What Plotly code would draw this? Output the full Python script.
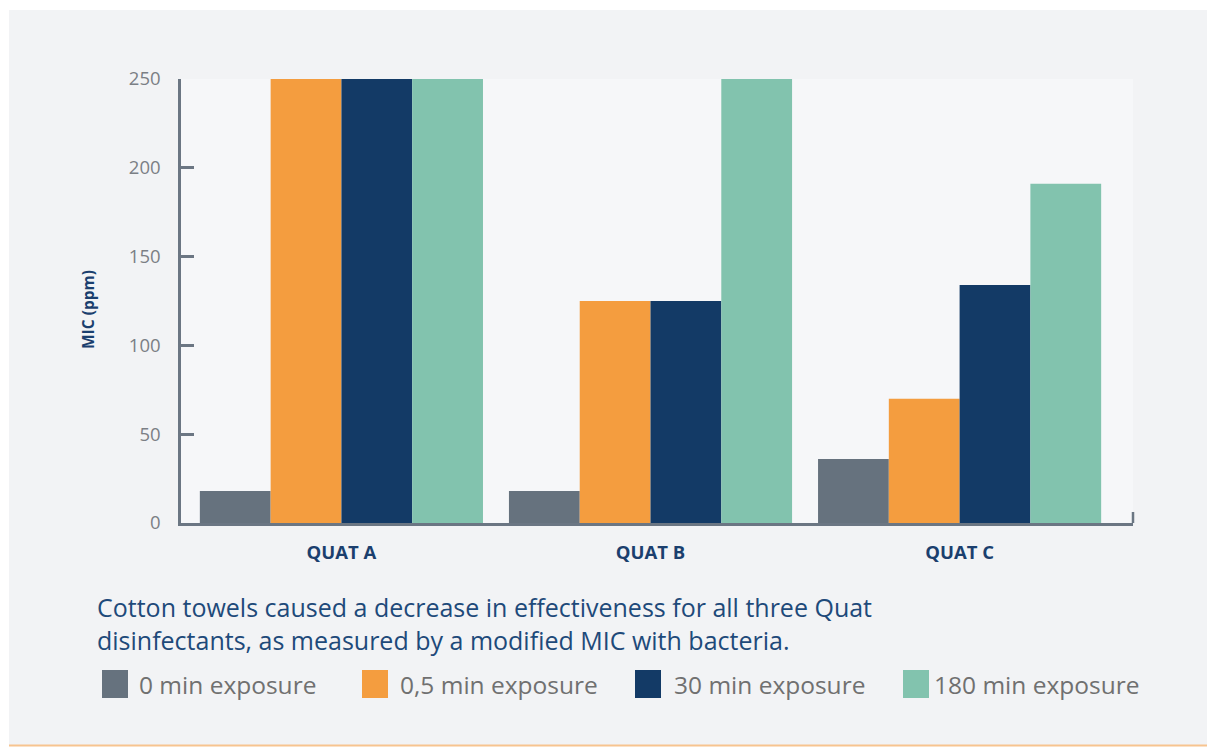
import plotly.graph_objects as go

# ---- data ----
categories = ["QUAT A", "QUAT B", "QUAT C"]
series_names = ["0 min exposure", "0,5 min exposure", "30 min exposure", "180 min exposure"]
vals_0min = [18, 18, 36]
vals_05min = [250, 125, 70]
vals_30min = [250, 125, 134]
vals_180min = [250, 250, 191]
y_ticks = [0, 50, 100, 150, 200, 250]
y_title = "MIC (ppm)"
caption_lines = ["Cotton towels caused a decrease in effectiveness for all three Quat",
                 "disinfectants, as measured by a modified MIC with bacteria."]

# ---- style ----
colors = ["#66727e", "#f49d3f", "#133a66", "#82c3ae"]
axis_col = "#6b7683"
navy = "#1b3f6e"
FONT = "Open Sans"

W, H = 1210, 747
L, R, T, B = 181, 1133, 79, 523  # plot area in pixels
pw, ph = R - L, B - T


def px(x):
    return (x - L) / pw


def py(y):
    return (B - y) / ph


fig = go.Figure()
all_vals = [vals_0min, vals_05min, vals_30min, vals_180min]
for name, v, c in zip(series_names, all_vals, colors):
    fig.add_trace(go.Bar(x=categories, y=v, name=name, marker=dict(color=c, line=dict(width=0)),
                         showlegend=False))

shapes = []
# panel background
shapes.append(dict(type="rect", xref="paper", yref="paper", x0=px(9), x1=px(1207), y0=py(745), y1=py(10),
                   fillcolor="#f2f3f5", line=dict(width=0), layer="below"))
shapes.append(dict(type="rect", xref="paper", yref="paper", x0=px(L), x1=px(R), y0=0, y1=1,
                   fillcolor="#f6f7f9", line=dict(width=0), layer="below"))
# orange bottom line
shapes.append(dict(type="line", xref="paper", yref="paper", x0=px(9), x1=px(1207), y0=py(745.5), y1=py(745.5),
                   line=dict(color="#f7c48f", width=2)))
# right end tick of x axis
shapes.append(dict(type="line", xref="paper", yref="paper", x0=1, x1=1, y0=0, y1=py(512),
                   line=dict(color=axis_col, width=2.5)))

annotations = []
annotations.append(dict(text="<br>".join(caption_lines), xref="paper", yref="paper", x=px(95), y=py(588),
                        xanchor="left", yanchor="top", align="left", showarrow=False,
                        font=dict(family=FONT, size=25, color="#1e4a7a")))
# y axis title
annotations.append(dict(text=f"<b>{y_title}</b>", xref="paper", yref="paper", x=px(88), y=py(310),
                        xanchor="center", yanchor="middle", textangle=-90, showarrow=False,
                        font=dict(family=FONT, size=15.5, color=navy)))

# manual legend
leg_x = [102, 362, 635, 903]
leg_tx = [137, 398, 672, 932]
leg_y = 684
for name, c, lx, tx in zip(series_names, colors, leg_x, leg_tx):
    shapes.append(dict(type="rect", xref="paper", yref="paper", x0=px(lx), x1=px(lx + 26),
                       y0=py(leg_y + 14), y1=py(leg_y - 14), fillcolor=c, line=dict(width=0)))
    annotations.append(dict(text=name, xref="paper", yref="paper", x=px(tx), y=py(leg_y),
                            xanchor="left", yanchor="middle", showarrow=False,
                            font=dict(family=FONT, size=24.5, color="#707070")))

fig.update_layout(
    width=W, height=H,
    margin=dict(l=L, r=W - R, t=T, b=H - B, pad=0),
    paper_bgcolor="#ffffff",
    plot_bgcolor="rgba(0,0,0,0)",
    barmode="group",
    bargap=0.084,
    bargroupgap=0,
    font=dict(family=FONT),
    shapes=shapes,
    annotations=annotations,
    xaxis=dict(
        range=[-0.519, 2.561],
        showline=True, linecolor=axis_col, linewidth=2.5,
        ticks="", showgrid=False, zeroline=False,
        tickfont=dict(family=FONT, size=18.5, color=navy, weight="bold"),
        ticklabelstandoff=11,
    ),
    yaxis=dict(
        range=[0, 250],
        tickvals=y_ticks,
        showline=True, linecolor=axis_col, linewidth=2.5,
        ticks="inside", ticklen=13, tickwidth=2.5, tickcolor=axis_col,
        showgrid=False, zeroline=False,
        tickfont=dict(family=FONT, size=18.5, color="#7b7f85"),
        ticklabelstandoff=14,
    ),
)

fig.write_html("out.html")
